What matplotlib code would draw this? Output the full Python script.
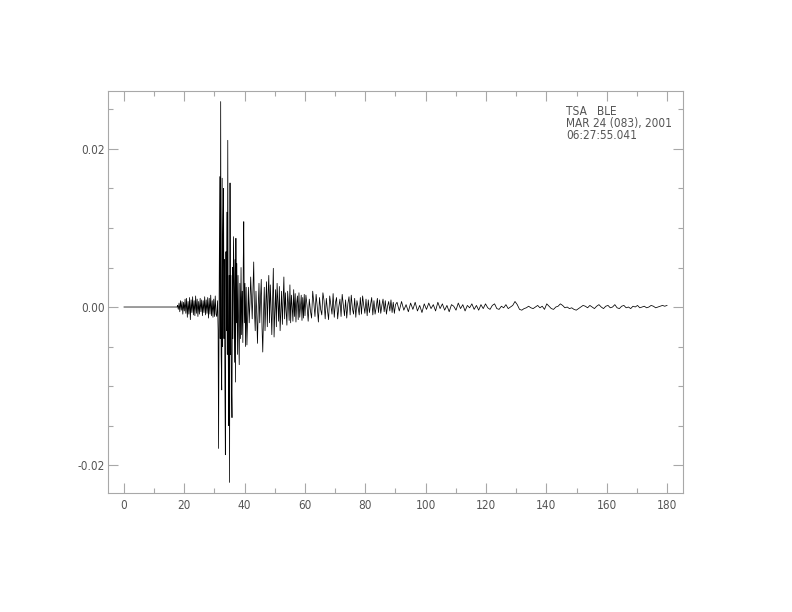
"""
Seismogram trace, station TSA (BLE component), 2001-03-24 06:27:55.041.
Values read off the reference picture (amplitudes stored in units of 1e-4).
"""
import matplotlib
matplotlib.use("Agg")
import matplotlib.pyplot as plt
import numpy as np
from matplotlib.ticker import MultipleLocator

FONT = ["DejaVu Sans"]
TXT_COLOR = "#555555"
FRAME_COLOR = "#a8a8a8"

STATION_LINES = ["TSA   BLE", "MAR 24 (083), 2001", "06:27:55.041"]

# quiet pre-event part
t_quiet = [0.0, 17.6]
amp_quiet = [0, 0]

# P onset / noisy part, even sampling 17.75 .. 30.5 s
onset_span = (17.75, 30.5)
amp_onset = [2, -3, 5, -6, 8, -4, 7, -9, 6, -5,
             10, -8, 11, -13, 7, -9, 12, -16, 9, -7,
             13, -10, 8, -11, 14, -8, 10, -12, 7, -9,
             11, -6, 9, -11, 8, -7, 13, -10, 9, -8,
             12, -14, 11, -9, 15, -11, 8, -13, 10, -12,
             14, -9]

# main arrival, uneven peaks
t_main = [30.75, 31.0, 31.2, 31.35, 31.55, 31.75, 31.9, 32.05, 32.2, 32.4,
          32.55, 32.7, 32.85, 33.0, 33.15, 33.3, 33.45, 33.6, 33.8, 33.95,
          34.1, 34.25, 34.4, 34.55, 34.7, 34.85, 35.0, 35.15, 35.3, 35.45,
          35.6, 35.8, 35.95, 36.1, 36.3, 36.5, 36.65, 36.8, 36.95, 37.1,
          37.25, 37.4, 37.6, 37.8, 38.0, 38.2, 38.4, 38.6, 38.8, 39.0,
          39.2, 39.4, 39.55, 39.7, 39.9, 40.1, 40.3, 40.5]
amp_main = [-12, 8, -30, -179, 20, 165, -40, 260, -60, -105,
            163, -50, 90, 150, -40, 60, -100, -187, 70, -30,
            120, -60, 211, -50, -150, 40, -222, 157, -60, 40,
            -90, -140, 50, -40, 89, 20, -70, 60, -95, 87,
            -20, 55, -60, 40, -30, -73, 30, -40, 50, -35,
            20, -45, 60, 108, -20, 30, -50, 25]

# early coda, even sampling 40.75 .. 60 s
coda1_span = (40.75, 60.0)
amp_coda1 = [-48, -10, 25, -20, 5, 38, 10, -15, 20, 57,
             -5, -30, 20, -10, -46, 0, 30, -20, 10, 35,
             -25, -57, -10, 25, -30, 5, 32, -25, 15, 40,
             -20, 28, 0, -35, 10, 49, -38, -5, 22, -25,
             30, 5, -18, 26, -30, -5, 20, -22, 10, 38,
             -15, 18, -5, -23, 20, 5, -17, 28, -20, 15,
             0, -18, 22, -12, 17, -19, 5, 14, -16, 18,
             -13, 0, 15, -17, 12, -14, 16, -11]

# coda 60 .. 90 s
coda2_span = (60.3, 90.0)
amp_coda2 = [15, 2, -18, 10, -5, -14, 20, 5, -12, 16,
             0, -19, 12, -3, -10, 18, 8, -15, 11, -4,
             -16, 14, 2, -9, 17, -13, 5, 12, -15, 0,
             10, -12, 16, 3, -11, 9, -14, 4, 13, -10,
             15, -2, -9, 11, -13, 8, 0, -10, 12, -9,
             14, 2, -8, 10, -11, 9, -7, 3, 12, -10,
             8, -9, 0, 11, -7, 9, -8, 2, 10, -6,
             8, -9, 1, 7, -5, 9, -7, 6, -8, 3]

# late coda 90 .. 180 s
coda3_span = (90.5, 180.0)
amp_coda3 = [6, -5, 7, -4, 3, -6, 5, -3, 6, -5,
             2, -7, 4, -3, 5, -2, 3, -5, 6, -2,
             4, -4, 2, -6, 3, 1, -4, 5, -2, 3,
             -5, 2, -1, 4, -3, 2, -4, 3, -2, 4,
             -1, -3, 2, 4, -2, -3, 1, -1, 3, -2,
             0, 2, 7, 3, -3, -4, -2, -1, 1, -1,
             -2, 0, 2, -1, 1, -3, 4, 1, -2, -3,
             0, 1, 4, 2, -1, 0, -2, -1, -3, -4,
             -2, 0, 2, 1, -1, 2, 0, -2, 1, 3,
             0, -2, 1, 2, -1, 0, 3, -1, -2, 1,
             2, -1, 0, -2, 1, 0, 2, -1, 0, 1,
             -1, 0, 2, 1, -1, 0, 1, 2, 1, 2]

X_TICKS = [0, 20, 40, 60, 80, 100, 120, 140, 160, 180]
Y_TICKS = [-0.02, 0.0, 0.02]


def build_trace():
    t_parts = [np.array(t_quiet)]
    a_parts = [np.array(amp_quiet, dtype=float)]
    t_parts.append(np.linspace(onset_span[0], onset_span[1], len(amp_onset)))
    a_parts.append(np.array(amp_onset, dtype=float))
    t_parts.append(np.array(t_main))
    a_parts.append(np.array(amp_main, dtype=float))
    for span, amp in [(coda1_span, amp_coda1), (coda2_span, amp_coda2), (coda3_span, amp_coda3)]:
        t_parts.append(np.linspace(span[0], span[1], len(amp)))
        a_parts.append(np.array(amp, dtype=float))
    return np.concatenate(t_parts), np.concatenate(a_parts) * 1e-4


def main() -> None:
    t, a = build_trace()

    fig = plt.figure(figsize=(7.92, 6.12), dpi=100)
    ax = fig.add_axes([108 / 792, 1 - 493 / 612, 575 / 792, 402 / 612])
    ax.plot(t, a, color="black", lw=0.55)

    ax.set_xlim(-5.3, 185.3)
    ax.set_ylim(-0.02354, 0.02734)

    ax.xaxis.set_minor_locator(MultipleLocator(10))
    ax.yaxis.set_minor_locator(MultipleLocator(0.005))
    ax.set_xticks(X_TICKS)
    ax.set_xticklabels([str(v) for v in X_TICKS])
    ax.set_yticks(Y_TICKS)
    ax.set_yticklabels([f"{v:.2f}" for v in Y_TICKS])

    ax.tick_params(which="both", direction="in", top=True, right=True,
                   color=FRAME_COLOR, width=0.8, labelcolor=TXT_COLOR, labelsize=8.5)
    ax.tick_params(which="major", length=7.2)
    ax.tick_params(which="minor", length=3.6)
    ax.tick_params(axis="x", which="major", pad=4)
    ax.tick_params(axis="y", which="major", pad=2.5)
    for lab in ax.get_xticklabels() + ax.get_yticklabels():
        lab.set_family(FONT)
        lab.set_stretch("condensed")
    for sp in ax.spines.values():
        sp.set_color(FRAME_COLOR)
        sp.set_linewidth(0.8)

    # station / date block, one text object, last baseline at y=139 px
    fig.text(566 / 792, 1 - 139 / 612, "\n".join(STATION_LINES), family=FONT,
             stretch="condensed", fontsize=8.5, color=TXT_COLOR,
             va="baseline", ha="left", linespacing=0.88)

    fig.savefig("out.png", dpi=100)
    plt.close(fig)


if __name__ == "__main__":
    main()
